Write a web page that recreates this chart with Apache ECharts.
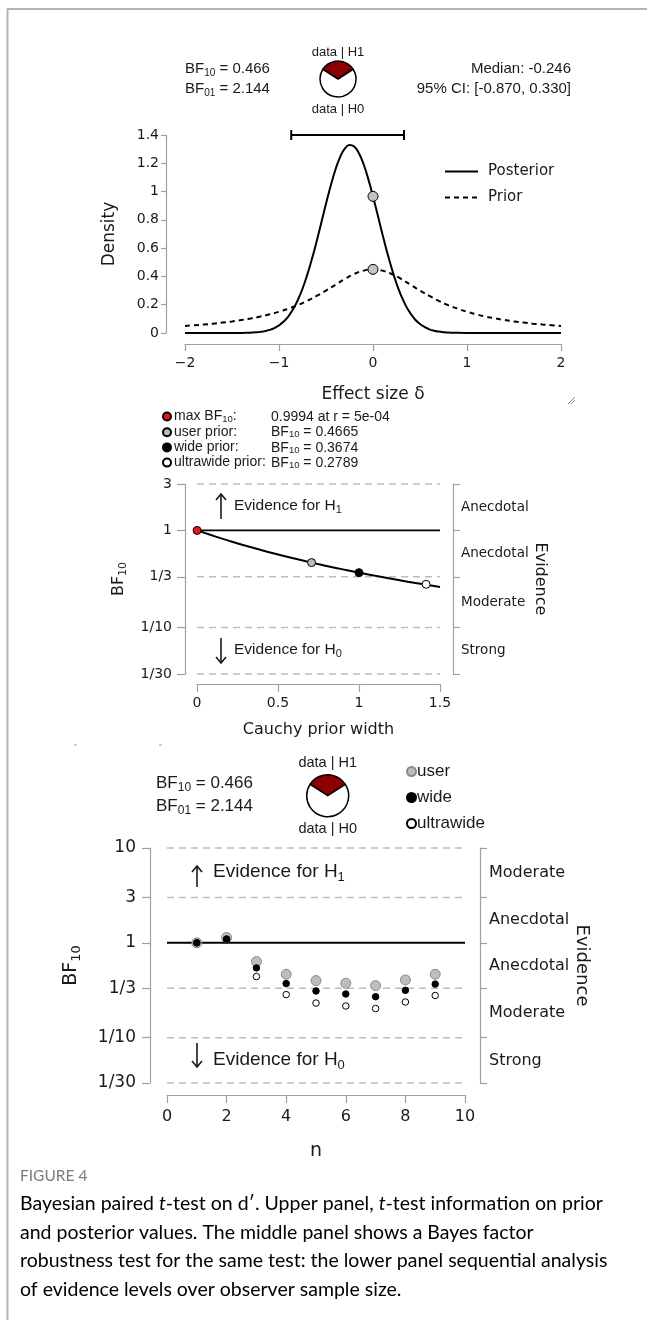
<!DOCTYPE html>
<html>
<head>
<meta charset="utf-8">
<script src="https://cdn.jsdelivr.net/npm/echarts@6/dist/echarts.min.js"></script>
<style>
  html, body { margin: 0; padding: 0; background: #fff; }
  #chart { width: 647px; height: 1320px; }
</style>
</head>
<body>
<div id="chart"></div>
<script>
// ---------- panel 1: prior and posterior density ----------
const postX = [-2, -1.8, -1.6, -1.5, -1.4, -1.35, -1.3, -1.25, -1.2, -1.15, -1.1, -1.05, -1.0, -0.95, -0.9, -0.85, -0.8, -0.75, -0.7, -0.65, -0.6, -0.55, -0.5, -0.45, -0.4, -0.35, -0.3, -0.25, -0.2, -0.15, -0.1, -0.05, 0, 0.05, 0.1, 0.15, 0.2, 0.25, 0.3, 0.35, 0.4, 0.45, 0.5, 0.55, 0.6, 0.65, 0.7, 0.75, 0.8, 0.85, 0.9, 1.0, 1.2, 1.5, 1.8, 2.0];
const postY = [0, 0, 0, 0.0002, 0.0008, 0.0014, 0.0026, 0.0046, 0.0079, 0.0134, 0.0219, 0.0347, 0.0537, 0.0808, 0.118, 0.168, 0.233, 0.313, 0.411, 0.523, 0.647, 0.780, 0.914, 1.041, 1.154, 1.244, 1.304, 1.329, 1.318, 1.271, 1.193, 1.088, 0.966, 0.834, 0.700, 0.571, 0.454, 0.350, 0.263, 0.192, 0.137, 0.094, 0.064, 0.042, 0.026, 0.016, 0.010, 0.006, 0.003, 0.002, 0.001, 0.0003, 0, 0, 0, 0];
const priorX = [-2.0, -1.9, -1.8, -1.7, -1.6, -1.5, -1.4, -1.3, -1.2, -1.1, -1.0, -0.9, -0.8, -0.7, -0.6, -0.5, -0.4, -0.3, -0.2, -0.1, 0, 0.1, 0.2, 0.3, 0.4, 0.5, 0.6, 0.7, 0.8, 0.9, 1.0, 1.1, 1.2, 1.3, 1.4, 1.5, 1.6, 1.7, 1.8, 1.9, 2.0];
const priorY = [0.050, 0.055, 0.060, 0.066, 0.074, 0.082, 0.092, 0.103, 0.116, 0.132, 0.150, 0.172, 0.197, 0.227, 0.262, 0.300, 0.341, 0.382, 0.417, 0.441, 0.450, 0.441, 0.417, 0.382, 0.341, 0.300, 0.262, 0.227, 0.197, 0.172, 0.150, 0.132, 0.116, 0.103, 0.092, 0.082, 0.074, 0.066, 0.060, 0.055, 0.050];
const ciLow = -0.870, ciHigh = 0.330, posteriorMedian = -0.246;
const bf10 = 0.466, bf01 = 2.144;
const densityTicks = { min: 0, max: 1.4, step: 0.2 };
const effectTicks = { min: -2, max: 2, step: 1 };

// ---------- panel 2: robustness check ----------
const priorWidth = [0, 0.1, 0.2, 0.3, 0.4, 0.5, 0.6, 0.7, 0.8, 0.9, 1.0, 1.1, 1.2, 1.3, 1.4, 1.5];
const robustBF = [0.9994, 0.880, 0.780, 0.696, 0.626, 0.566, 0.514, 0.469, 0.431, 0.397, 0.367, 0.341, 0.318, 0.297, 0.279, 0.262];
const maxPoint = [0.0005, 0.9994];
const userPoint = [0.7071, 0.4665];
const widePoint = [1.0, 0.3674];
const ultraPoint = [1.4142, 0.2789];
const widthTicks = { min: 0, max: 1.5, step: 0.5 };
const levels2 = [1 / 30, 1 / 10, 1 / 3, 1, 3];
const levelLabels2 = ['1/30', '1/10', '1/3', '1', '3'];
const evidence2 = ['Strong', 'Moderate', 'Anecdotal', 'Anecdotal'];

// ---------- panel 3: sequential analysis ----------
const seqN = [1, 2, 3, 4, 5, 6, 7, 8, 9];
const seqUser = [1.0, 1.14, 0.635, 0.467, 0.400, 0.375, 0.354, 0.407, 0.4665];
const seqWide = [1.0, 1.10, 0.544, 0.372, 0.311, 0.289, 0.271, 0.316, 0.3674];
const seqUltra = [1.0, 1.08, 0.441, 0.285, 0.232, 0.216, 0.203, 0.238, 0.2789];
const nTicks = { min: 0, max: 10, step: 2 };
const levels3 = [1 / 30, 1 / 10, 1 / 3, 1, 3, 10];
const levelLabels3 = ['1/30', '1/10', '1/3', '1', '3', '10'];
const evidence3 = ['Strong', 'Moderate', 'Anecdotal', 'Anecdotal', 'Moderate'];

const ink = '#1a1a1a';
const axisGrey = '#a0a0a0';
const dashGrey = '#bdbdbd';
const axFont = 'DejaVu Sans';
const txFont = 'Liberation Sans';

const zip = (xs, ys) => xs.map((x, i) => [x, ys[i]]);
const mids = arr => arr.slice(0, -1).map((v, i) => Math.sqrt(v * arr[i + 1]));
function nearest(arr, v) {
  let best = 0, d = Infinity;
  arr.forEach((a, i) => {
    const e = Math.abs(Math.log(a) - Math.log(v));
    if (e < d) { d = e; best = i; }
  });
  return best;
}
const minus = v => (v < 0 ? '\u2212' + Math.abs(v) : String(v));

function sub(size, col) {
  return {
    n: { fontFamily: txFont, fontSize: size, color: col || ink, lineHeight: size + 4, verticalAlign: 'middle' },
    s: { fontFamily: txFont, fontSize: Math.round(size * 0.68), color: col || ink, lineHeight: Math.round(size * 0.68), verticalAlign: 'bottom' }
  };
}
function txt(x, y, text, size, align, rich) {
  return {
    type: 'text', x: x, y: y, silent: true,
    style: { text: text, fontFamily: txFont, fontSize: size, fill: ink, align: align || 'left', verticalAlign: 'middle', rich: rich || sub(size) }
  };
}
function arrow(x, y0, y1) {
  const dir = y1 < y0 ? 1 : -1;
  return {
    type: 'group', silent: true, children: [
      { type: 'line', shape: { x1: x, y1: y0, x2: x, y2: y1 }, style: { stroke: ink, lineWidth: 1.6 } },
      { type: 'polyline', shape: { points: [[x - 5, y1 + dir * 6], [x, y1], [x + 5, y1 + dir * 6]] }, style: { stroke: ink, lineWidth: 1.6, fill: null } }
    ]
  };
}
function line(x1, y1, x2, y2, col, w) {
  return { type: 'line', silent: true, shape: { x1: x1, y1: y1, x2: x2, y2: y2 }, style: { stroke: col, lineWidth: w } };
}

// the lowest level sits on the axis minimum; nudge the extent so it is not dropped by rounding
const lowEdge = levels => levels[0] / 1.0002;
const highEdge = levels => levels[levels.length - 1] * 1.0002;

function logAxis(grid, levels, labels, o) {
  return {
    type: 'log', logBase: 10, gridIndex: grid, min: lowEdge(levels), max: highEdge(levels),
    offset: o.offset,
    axisLine: { show: true, onZero: false, lineStyle: { color: axisGrey, width: 1.2 } },
    axisTick: { show: true, customValues: levels, length: o.tick, lineStyle: { color: axisGrey, width: 1.2 } },
    axisLabel: { customValues: levels, margin: o.margin, fontFamily: axFont, fontSize: o.font, color: ink,
      formatter: v => labels[nearest(levels, v)] },
    splitLine: { show: false },
    name: '{a|BF}{b|10}', nameLocation: 'middle', nameRotate: 90, nameGap: o.gap,
    nameTextStyle: { rich: {
      a: { fontFamily: axFont, fontSize: o.nameFont, color: ink, lineHeight: o.nameFont + 4, verticalAlign: 'middle' },
      b: { fontFamily: axFont, fontSize: Math.round(o.nameFont * 0.7), color: ink, lineHeight: Math.round(o.nameFont * 0.7), verticalAlign: 'bottom' }
    } }
  };
}
function evidenceAxis(grid, levels, names, o) {
  const m = mids(levels);
  return {
    type: 'log', logBase: 10, gridIndex: grid, position: 'right', min: lowEdge(levels), max: highEdge(levels),
    offset: o.offset,
    axisLine: { show: true, onZero: false, lineStyle: { color: axisGrey, width: 1.2 } },
    axisTick: { show: true, customValues: levels, length: o.tick, lineStyle: { color: axisGrey, width: 1.2 } },
    axisLabel: { customValues: m, margin: o.margin, fontFamily: axFont, fontSize: o.font, color: ink,
      formatter: v => names[nearest(m, v)] },
    splitLine: { show: false },
    name: 'Evidence', nameLocation: 'middle', nameRotate: -90, nameGap: o.gap,
    nameTextStyle: { fontFamily: axFont, fontSize: o.nameFont, color: ink }
  };
}
function valueAxis(grid, t, o) {
  return {
    type: 'value', gridIndex: grid, min: t.min, max: t.max, interval: t.step, offset: o.offset,
    axisLine: { show: true, onZero: false, lineStyle: { color: axisGrey, width: 1.2 } },
    axisTick: { show: true, length: o.tick, lineStyle: { color: axisGrey, width: 1.2 } },
    axisLabel: { margin: o.margin, fontFamily: axFont, fontSize: o.font, color: ink, formatter: o.fmt || (v => String(v)) },
    splitLine: { show: false },
    name: o.name, nameLocation: 'middle', nameGap: o.gap, nameRotate: o.rotate,
    nameTextStyle: { fontFamily: axFont, fontSize: o.nameFont, color: ink }
  };
}
// dashed reference lines at each evidence boundary (BF = 1 is drawn solid)
function levelLines(xAxis, yAxis, ticks, levels) {
  const data = [];
  levels.filter(v => v !== 1).forEach(v => {
    data.push([ticks.min, v], [ticks.max, v], [ticks.max, '-']);
  });
  return {
    name: 'levels' + yAxis, type: 'line', xAxisIndex: xAxis, yAxisIndex: yAxis, data: data,
    symbol: 'none', silent: true, clip: false, connectNulls: false, z: 1,
    lineStyle: { type: [7, 5], color: dashGrey, width: 1.5 }
  };
}
function pie(cx, cy, r) {
  return {
    type: 'pie', center: [cx, cy], radius: r, silent: true, clockwise: true,
    startAngle: 90 + 180 * bf10 / (1 + bf10),
    label: { show: false }, labelLine: { show: false },
    itemStyle: { borderColor: '#000', borderWidth: 1.5 },
    data: [{ value: bf10, itemStyle: { color: '#8b0000' } }, { value: 1, itemStyle: { color: '#ffffff' } }]
  };
}
function dots(name, xAxis, yAxis, data, color, size, border) {
  return {
    name: name, type: 'scatter', xAxisIndex: xAxis, yAxisIndex: yAxis, data: data,
    symbol: 'circle', symbolSize: size, silent: true, clip: false, z: 3,
    itemStyle: { color: color, borderColor: border || '#000', borderWidth: 1, opacity: 1 }
  };
}

const legendNames2 = {
  maxBF: '{a|max BF}{s|10}{a|:}',
  userPrior: '{a|user prior:}',
  widePrior: '{a|wide prior:}',
  ultraPrior: '{a|ultrawide prior:}'
};
const legendRich2 = {
  a: { fontFamily: txFont, fontSize: 14, color: ink, lineHeight: 15, verticalAlign: 'middle' },
  s: { fontFamily: txFont, fontSize: 9.5, color: ink, lineHeight: 9, verticalAlign: 'bottom' }
};
const captionLines = [
  'Bayesian paired {i|t}-test on d\u2032. Upper panel, {i|t}-test information on prior',
  'and posterior values. The middle panel shows a Bayes factor',
  'robustness test for the same test: the lower panel sequential analysis',
  'of evidence levels over observer sample size.'
];

const chart = echarts.init(document.getElementById('chart'));

const option = {
  animation: false,
  backgroundColor: '#ffffff',
  textStyle: { fontFamily: axFont },
  grid: [
    { left: 185, top: 135, width: 376, height: 198 },
    { left: 197, top: 484, width: 243, height: 190 },
    { left: 167, top: 848, width: 298, height: 235 }
  ],
  xAxis: [
    valueAxis(0, effectTicks, { offset: 11, tick: 7, margin: 12, font: 14, fmt: minus, name: 'Effect size \u03b4', gap: 42, nameFont: 17 }),
    valueAxis(1, widthTicks, { offset: 10, tick: 8, margin: 12, font: 14, name: 'Cauchy prior width', gap: 38, nameFont: 16 }),
    valueAxis(2, nTicks, { offset: 12, tick: 8, margin: 14, font: 16, name: 'n', gap: 47, nameFont: 19 })
  ],
  yAxis: [
    valueAxis(0, densityTicks, { offset: 19, tick: 5, margin: 7, font: 14, name: 'Density', gap: 48, nameFont: 17, rotate: 90 }),
    logAxis(1, levels2, levelLabels2, { offset: 12, tick: 8, margin: 13, font: 14, gap: 56, nameFont: 16 }),
    evidenceAxis(1, levels2, evidence2, { offset: 13, tick: 7, margin: 8, font: 13.5, gap: 79, nameFont: 16 }),
    logAxis(2, levels3, levelLabels3, { offset: 17, tick: 8, margin: 14, font: 17, gap: 67, nameFont: 19 }),
    evidenceAxis(2, levels3, evidence3, { offset: 15, tick: 7, margin: 9, font: 16, gap: 89, nameFont: 18 })
  ],
  legend: [
    {
      data: ['Posterior', 'Prior'], orient: 'vertical', left: 444, top: 164, padding: 0,
      itemWidth: 33, itemHeight: 14, itemGap: 11, selectedMode: false,
      itemStyle: { opacity: 0 },
      textStyle: { fontFamily: axFont, fontSize: 15, color: ink, padding: [0, 0, 0, 5] }
    },
    {
      data: ['maxBF', 'userPrior', 'widePrior', 'ultraPrior'], orient: 'vertical', left: 162, top: 409.5, padding: 0,
      itemWidth: 8, itemHeight: 8, itemGap: 1.2, icon: 'circle', selectedMode: false,
      formatter: n => legendNames2[n], textStyle: { rich: legendRich2, padding: [0, 0, 0, -2] }
    },
    {
      data: ['user', 'wide', 'ultrawide'], orient: 'vertical', left: 406, top: 763, padding: 0,
      itemWidth: 9, itemHeight: 9, itemGap: 9, icon: 'circle', selectedMode: false,
      textStyle: { fontFamily: txFont, fontSize: 17, color: ink, padding: [0, 0, 0, -4] }
    }
  ],
  series: [
    {
      name: 'Posterior', type: 'line', xAxisIndex: 0, yAxisIndex: 0, data: zip(postX, postY),
      smooth: true, symbol: 'none', silent: true, lineStyle: { color: '#000', width: 2 }, itemStyle: { color: '#000' }
    },
    {
      name: 'Prior', type: 'line', xAxisIndex: 0, yAxisIndex: 0, data: zip(priorX, priorY),
      smooth: true, symbol: 'none', silent: true, lineStyle: { color: '#000', width: 2, type: [5, 4] }, itemStyle: { color: '#000' }
    },
    dots('atZero', 0, 0, [[0, postY[postX.indexOf(0)]], [0, priorY[priorX.indexOf(0)]]], '#c4c4c4', 10),
    {
      name: 'ci', type: 'line', xAxisIndex: 0, yAxisIndex: 0, clip: false, silent: true,
      data: [[ciLow, densityTicks.max], [ciHigh, densityTicks.max]],
      symbol: 'rect', symbolSize: [2, 10], lineStyle: { color: '#000', width: 2 }, itemStyle: { color: '#000' }
    },

    levelLines(1, 1, widthTicks, levels2),
    {
      name: 'robust', type: 'line', xAxisIndex: 1, yAxisIndex: 1, data: zip(priorWidth, robustBF),
      smooth: true, symbol: 'none', silent: true, z: 2, lineStyle: { color: '#000', width: 2 }
    },
    {
      name: 'one2', type: 'line', xAxisIndex: 1, yAxisIndex: 1, silent: true, symbol: 'none', z: 2,
      data: [[widthTicks.min, 1], [widthTicks.max, 1]], lineStyle: { color: '#000', width: 1.6 }
    },
    dots('maxBF', 1, 1, [maxPoint], '#e8151b', 8),
    dots('userPrior', 1, 1, [userPoint], '#bdbdbd', 8),
    dots('widePrior', 1, 1, [widePoint], '#000000', 8),
    dots('ultraPrior', 1, 1, [ultraPoint], '#ffffff', 8),

    levelLines(2, 3, nTicks, levels3),
    {
      name: 'one3', type: 'line', xAxisIndex: 2, yAxisIndex: 3, silent: true, symbol: 'none', z: 2,
      data: [[nTicks.min, 1], [nTicks.max, 1]], lineStyle: { color: '#000', width: 2 }
    },
    dots('user', 2, 3, zip(seqN, seqUser), '#bdbdbd', 10, '#8a8a8a'),
    dots('ultrawide', 2, 3, zip(seqN, seqUltra), '#ffffff', 6.5),
    dots('wide', 2, 3, zip(seqN, seqWide), '#000000', 6.5),

    pie(338, 79, 18),
    pie(327.7, 795.7, 21)
  ],
  graphic: {
    elements: [
      // frame
      line(7, 9, 647, 9, '#b3b3b3', 2),
      line(7.5, 9, 7.5, 1320, '#b3b3b3', 2),
      // panel 1 header
      txt(185, 69, '{n|BF}{s|10}{n| = ' + bf10.toFixed(3) + '}', 15),
      txt(185, 89, '{n|BF}{s|01}{n| = ' + bf01.toFixed(3) + '}', 15),
      txt(338, 52, 'data | H1', 13, 'center'),
      txt(338, 109, 'data | H0', 13, 'center'),
      txt(571, 69, 'Median: ' + posteriorMedian.toFixed(3), 15, 'right'),
      txt(571, 89, '95% CI: [' + ciLow.toFixed(3) + ', ' + ciHigh.toFixed(3) + ']', 15, 'right'),
      line(568, 404, 575, 397, '#8c8c8c', 1),
      line(571, 404, 575, 400, '#8c8c8c', 1),
      line(74, 745, 77, 745, '#9a9a9a', 1),
      line(159, 745, 162, 745, '#9a9a9a', 1),
      // panel 2 legend values
      txt(271, 416.7, '{a|' + maxPoint[1] + ' at r = 5e-04}', 14, 'left', legendRich2),
      txt(271, 431.9, '{a|BF}{s|10}{a| = ' + userPoint[1].toFixed(4) + '}', 14, 'left', legendRich2),
      txt(271, 447.7, '{a|BF}{s|10}{a| = ' + widePoint[1].toFixed(4) + '}', 14, 'left', legendRich2),
      txt(271, 463.3, '{a|BF}{s|10}{a| = ' + ultraPoint[1].toFixed(4) + '}', 14, 'left', legendRich2),
      // panel 2 evidence arrows
      arrow(221, 519, 494),
      txt(234, 506, '{n|Evidence for H}{s|1}', 15.5),
      arrow(221, 638, 663),
      txt(234, 650, '{n|Evidence for H}{s|0}', 15.5),
      // panel 3 header
      txt(156, 783, '{n|BF}{s|10}{n| = ' + bf10.toFixed(3) + '}', 17),
      txt(156, 806, '{n|BF}{s|01}{n| = ' + bf01.toFixed(3) + '}', 17),
      txt(327.7, 763, 'data | H1', 14.5, 'center'),
      txt(327.7, 829, 'data | H0', 14.5, 'center'),
      // panel 3 evidence arrows
      arrow(197, 887, 866),
      txt(213, 872, '{n|Evidence for H}{s|1}', 19),
      arrow(197, 1043, 1067),
      txt(213, 1060, '{n|Evidence for H}{s|0}', 19),
      // caption
      {
        type: 'text', x: 20, y: 1176, silent: true,
        style: { text: 'FIGURE 4', fontFamily: 'Lato', fontSize: 15.5, fill: '#7a7a7a', verticalAlign: 'middle' }
      }
    ].concat(captionLines.map((s, i) => ({
      type: 'text', x: 20, y: 1204 + i * 28.5, silent: true,
      style: {
        text: '{r|' + s.replace(/\{i\|t\}/g, '}{i|t}{r|') + '}', verticalAlign: 'middle',
        rich: {
          r: { fontFamily: 'Lato', fontSize: 19.5, color: '#555' },
          i: { fontFamily: 'Lato', fontSize: 19.5, fontStyle: 'italic', color: '#555' }
        }
      }
    })))
  }
};

chart.setOption(option);
</script>
</body>
</html>
